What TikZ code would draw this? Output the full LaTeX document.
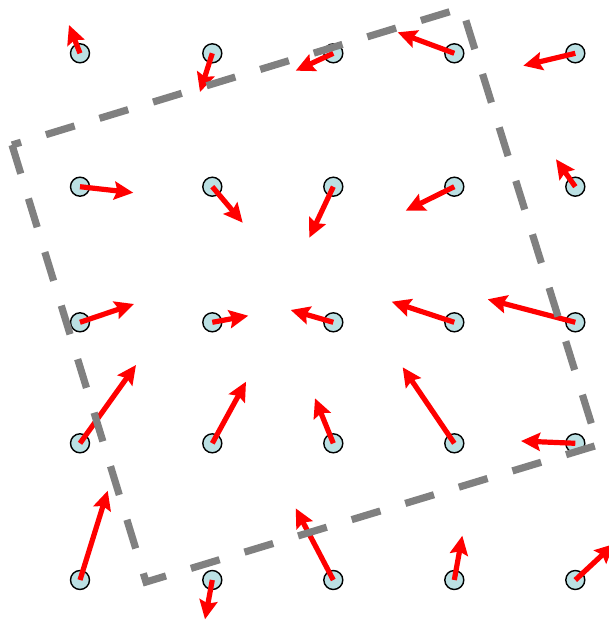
\documentclass[tikz,border=0pt]{standalone}
\usepackage{xcolor}
\usepackage{tikz}
\usetikzlibrary{arrows.meta}

\definecolor{dotfill}{RGB}{187,224,227}

\begin{document}
\begin{tikzpicture}[
  x=1pt, y=-1pt,
  dot/.style={draw, circle, fill=dotfill, line width=1.4pt, minimum size=19pt, inner sep=0pt},
  flow/.style={draw=red, line width=5.2pt, -{Stealth[length=19pt, width=18pt, inset=3pt]}},
  frame/.style={draw=gray, line width=7.2pt, dash pattern=on 30pt off 26pt}
]
  \useasboundingbox (0,0) rectangle (608,621);

  % sample points
  \foreach \x [count=\c] in {80, 212.3, 333.3, 454.3, 575.3}
    \foreach \y [count=\r] in {53.3, 186.7, 322.3, 443.3, 580}
      \node[dot] (p-\r-\c) at (\x,\y) {};

  % arrow tips
  \foreach \r/\c/\tx/\ty in {
      1/1/69/25,     1/2/200/92,    1/3/295.7/70.7, 1/4/397.7/32.3, 1/5/523.3/65.7,
      2/1/133.3/192.7, 2/2/242.7/222.7, 2/3/309.3/237.7, 2/4/405.7/210.7, 2/5/556/159.3,
      3/1/134/304,   3/2/248.3/315.7, 3/3/290.7/310, 3/4/391.7/301.7, 3/5/487.7/299.3,
      4/1/136/365,   4/2/246/381.7, 4/3/315/398.3, 4/4/402.7/367.3, 4/5/521/441,
      5/1/107.7/490.7, 5/2/205/619.3, 5/3/295.7/508.3, 5/4/462.3/535.7, 5/5/614/544}
    \coordinate (t-\r-\c) at (\tx,\ty);

  \foreach \r in {1,...,5}
    \foreach \c in {1,...,5}
      \draw[flow] (p-\r-\c.center) -- (t-\r-\c);

  % rotated window
  \draw[frame] (12,145) -- (146,582) -- (598,445) -- (462,8) -- cycle;
\end{tikzpicture}
\end{document}
